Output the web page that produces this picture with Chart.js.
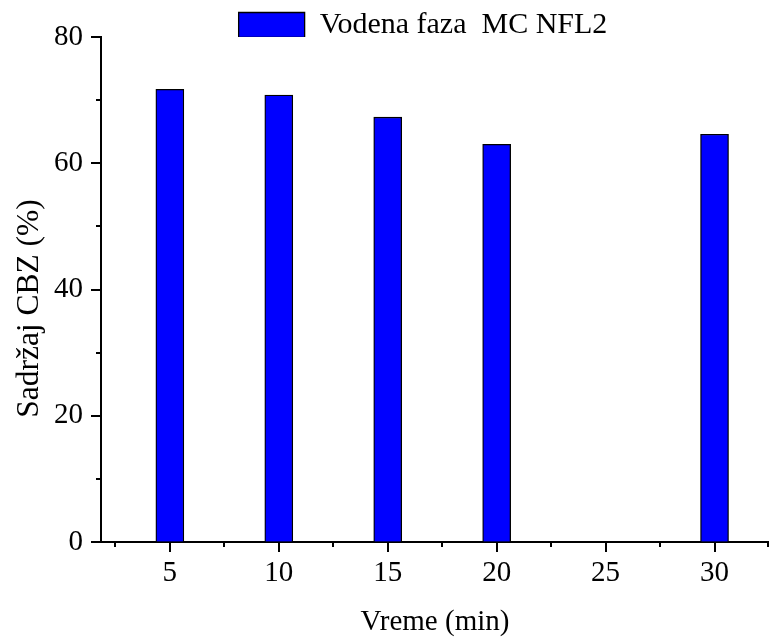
<!DOCTYPE html>
<html>
<head>
<meta charset="utf-8">
<script src="https://cdn.jsdelivr.net/npm/chart.js@4"></script>
<style>
  html, body { margin: 0; padding: 0; background: #fff; }
  #wrap { width: 769px; height: 639px; }
</style>
</head>
<body>
<div id="wrap"><canvas id="c" width="769" height="639"></canvas></div>
<script>
const seriesName = 'Vodena faza  MC NFL2';
const times = [5, 10, 15, 20, 30];
const content = [71.7, 70.8, 67.3, 63.0, 64.6];
const xTicks = [5, 10, 15, 20, 25, 30];
const xMinorTicks = [2.5, 7.5, 12.5, 17.5, 22.5, 27.5, 32.5];
const yTicks = [0, 20, 40, 60, 80];
const yMinorTicks = [10, 30, 50, 70];
const xTitle = 'Vreme (min)';
const yTitle = 'Sadržaj CBZ (%)';

const FONT = 'Liberation Serif, Times New Roman, serif';
const CLEAR = 'rgba(0,0,0,0)';

const axisPlugin = {
  id: 'axisTicks',
  afterInit(chart) {
    const lg = chart.legend;
    if (lg) {
      const orig = lg.fit.bind(lg);
      lg.fit = function () { orig(); this.height = 37; };
    }
  },
  afterLayout(chart) {
    if (chart.legend) { chart.legend.left -= 24; }
    // move the y title's centre down (title is centred between scale top and bottom)
    chart.scales.y.top += 38;
  },
  afterDraw(chart) {
    const ctx = chart.ctx;
    const xs = chart.scales.x, ys = chart.scales.y;
    const x0 = Math.round(xs.getPixelForValue(xs.min));
    const y0 = Math.round(ys.getPixelForValue(0));
    const yTop = Math.round(ys.getPixelForValue(ys.max));
    ctx.save();
    ctx.lineWidth = 2;
    ctx.strokeStyle = '#000';
    ctx.beginPath();
    // y axis line
    ctx.moveTo(x0, yTop - 1);
    ctx.lineTo(x0, y0 + 1);
    // y ticks
    yTicks.forEach(v => {
      const py = Math.round(ys.getPixelForValue(v));
      ctx.moveTo(x0, py); ctx.lineTo(x0 - 10, py);
    });
    yMinorTicks.forEach(v => {
      const py = Math.round(ys.getPixelForValue(v));
      ctx.moveTo(x0, py); ctx.lineTo(x0 - 5, py);
    });
    // x ticks
    xTicks.forEach(v => {
      const px = Math.round(xs.getPixelForValue(v));
      ctx.moveTo(px, y0); ctx.lineTo(px, y0 + 10);
    });
    xMinorTicks.forEach(v => {
      const px = Math.min(Math.round(xs.getPixelForValue(v)), chart.width - 1);
      ctx.moveTo(px, y0); ctx.lineTo(px, y0 + 5);
    });
    ctx.stroke();
    ctx.restore();
  }
};

new Chart(document.getElementById('c'), {
  type: 'bar',
  data: {
    datasets: [{
      label: seriesName,
      data: times.map((t, i) => ({ x: t, y: content[i] })),
      backgroundColor: '#0000ff',
      borderColor: '#000',
      borderWidth: 1.3,
      barThickness: 28
    }]
  },
  options: {
    responsive: false,
    animation: false,
    devicePixelRatio: 1,
    layout: { padding: { left: 0, right: 0, top: 0, bottom: 0 } },
    plugins: {
      legend: {
        display: true,
        position: 'top',
        fullSize: false,
        labels: {
          boxWidth: 66,
          boxHeight: 25,
          padding: 10,
          color: '#000',
          font: { family: FONT, size: 30 }
        }
      },
      tooltip: { enabled: false }
    },
    scales: {
      x: {
        type: 'linear',
        min: 1.84,
        max: 32.5,
        offset: false,
        afterBuildTicks: s => { s.ticks = xTicks.map(v => ({ value: v })); },
        afterFit: s => { s.height = 97; },
        grid: { display: true, offset: false, drawOnChartArea: false, drawTicks: true, tickLength: 10, color: CLEAR },
        border: { display: true, color: '#000', width: 2 },
        ticks: { color: '#000', font: { family: FONT, size: 29 }, padding: 4, maxRotation: 0 },
        title: { display: true, text: xTitle, color: '#000', font: { family: FONT, size: 29, lineHeight: 1 }, padding: { top: 0, bottom: 2 } }
      },
      y: {
        type: 'linear',
        min: 0,
        max: 80,
        afterBuildTicks: s => { s.ticks = yTicks.map(v => ({ value: v })); },
        afterFit: s => { s.width = 101; },
        grid: { display: true, drawOnChartArea: false, drawTicks: true, tickLength: 10, color: CLEAR },
        border: { display: false },
        ticks: { color: '#000', font: { family: FONT, size: 29 }, padding: 8 },
        title: { display: true, text: yTitle, color: '#000', font: { family: FONT, size: 31.5 }, padding: { top: 11, bottom: 0 } }
      }
    }
  },
  plugins: [axisPlugin]
});
</script>
</body>
</html>
